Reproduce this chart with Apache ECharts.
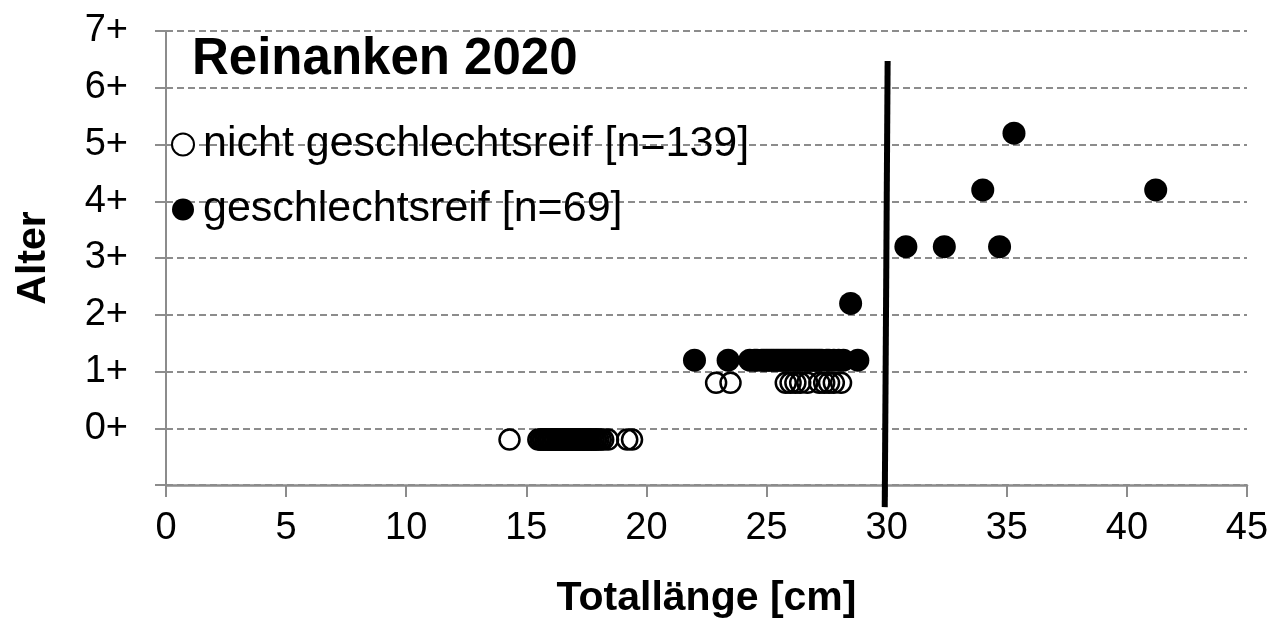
<!DOCTYPE html>
<html>
<head>
<meta charset="utf-8">
<title>Reinanken 2020</title>
<script src="https://cdn.jsdelivr.net/npm/echarts@6/dist/echarts.min.js"></script>
<style>
  html, body { margin: 0; padding: 0; background: #fff; }
  #chart { width: 1271px; height: 619px; }
</style>
</head>
<body>
<div id="chart"></div>
<script>
// Totallänge [cm] je Altersklasse
const openAge0 = [14.3,
  15.5, 15.6, 15.6, 15.7, 15.7, 15.8, 15.8, 15.9, 15.9, 16.0, 16.0, 16.0, 16.1, 16.1,
  16.2, 16.2, 16.2, 16.3, 16.3, 16.4, 16.4, 16.4, 16.5, 16.5, 16.5, 16.6, 16.6, 16.6,
  16.7, 16.7, 16.7, 16.8, 16.8, 16.8, 16.9, 16.9, 16.9, 17.0, 17.0, 17.0, 17.1, 17.1,
  17.1, 17.2, 17.2, 17.2, 17.3, 17.3, 17.3, 17.4, 17.4, 17.4, 17.5, 17.5, 17.5, 17.6,
  17.6, 17.7, 17.7, 17.8, 17.8, 17.9, 17.9, 18.0, 18.1, 18.2, 18.4, 19.2, 19.4];
const openAge1 = [22.9, 23.5, 25.8, 26.0, 26.2, 26.4, 26.7, 27.2, 27.4, 27.6, 27.8, 28.1];
const filledAge1 = [22.0, 23.4, 24.3, 24.5, 24.6, 24.8, 24.9, 25.0, 25.1, 25.2, 25.3, 25.4,
  25.5, 25.6, 25.7, 25.8, 25.9, 26.0, 26.1, 26.2, 26.3, 26.4, 26.5, 26.6, 26.7, 26.8,
  26.9, 27.0, 27.1, 27.2, 27.3, 27.5, 27.6, 27.8, 28.0, 28.2, 28.8];
// [länge, alter]
const filledOlder = [[28.5, 2], [30.8, 3], [32.4, 3], [34.7, 3], [34.0, 4], [41.2, 4], [35.3, 5]];

const xTicks = [0, 5, 10, 15, 20, 25, 30, 35, 40, 45];
const ageTicks = [0, 1, 2, 3, 4, 5, 6, 7];
const limitLine = [[29.92, -1.39], [30.04, 6.47]];

const nameOpen = 'nicht geschlechtsreif [n=139]';
const nameFilled = 'geschlechtsreif [n=69]';

// offene Kreise etwas unter, volle etwas über der Alterslinie
const shift = 0.2;
const openData = openAge0.map(l => [l, 0 - shift]).concat(openAge1.map(l => [l, 1 - shift]));
const filledData = filledAge1.map(l => [l, 1 + shift]).concat(filledOlder.map(d => [d[0], d[1] + shift]));

const font = "'Liberation Sans', Arial, sans-serif";
const gridGray = '#8c8c8c';

const chart = echarts.init(document.getElementById('chart'));
chart.setOption({
  animation: false,
  textStyle: { fontFamily: font, color: '#000' },
  title: {
    text: 'Reinanken 2020',
    left: 192, top: 35, padding: 0,
    textStyle: { fontFamily: font, fontSize: 51, fontWeight: 'bold', color: '#000', lineHeight: 50 }
  },
  legend: {
    orient: 'vertical',
    left: 171, top: 119, padding: 0,
    itemWidth: 22, itemHeight: 22, itemGap: 14,
    textStyle: { fontFamily: font, fontSize: 43, color: '#000', lineHeight: 42, padding: [0, 0, 9, 4] },
    data: [
      { name: nameOpen, icon: 'circle', itemStyle: { color: '#fff', borderColor: '#000', borderWidth: 2, opacity: 1 } },
      { name: nameFilled, icon: 'circle', itemStyle: { color: '#000', borderWidth: 0, opacity: 1 } }
    ]
  },
  grid: { left: 166, right: 24, top: 31, bottom: 134, containLabel: false, outerBoundsMode: 'none' },
  xAxis: {
    type: 'value',
    min: xTicks[0], max: xTicks[xTicks.length - 1], interval: 5,
    name: 'Totallänge [cm]',
    nameLocation: 'middle', nameGap: 93,
    nameTextStyle: { fontFamily: font, fontSize: 41, fontWeight: 'bold', color: '#000' },
    axisLine: { onZero: false, lineStyle: { color: gridGray, width: 2.5 } },
    axisTick: { length: 12, lineStyle: { color: gridGray, width: 2 } },
    axisLabel: { fontFamily: font, fontSize: 38, color: '#000', margin: 25 },
    splitLine: { show: false }
  },
  yAxis: {
    type: 'value',
    min: -1, max: ageTicks[ageTicks.length - 1], interval: 1,
    name: 'Alter',
    nameLocation: 'middle', nameGap: 112, nameRotate: 90,
    nameTextStyle: { fontFamily: font, fontSize: 41, fontWeight: 'bold', color: '#000' },
    axisLine: { show: true, onZero: false, lineStyle: { color: gridGray, width: 2 } },
    axisTick: { show: true, length: 11, lineStyle: { color: gridGray, width: 2 } },
    axisLabel: {
      fontFamily: font, fontSize: 38, color: '#000', margin: 38,
      formatter: v => (ageTicks.indexOf(v) >= 0 ? v + '+' : '')
    },
    splitLine: { show: true, lineStyle: { color: gridGray, width: 2, type: [7, 4] } }
  },
  series: [
    {
      name: nameOpen,
      type: 'scatter',
      symbol: 'circle',
      symbolSize: 20,
      itemStyle: { color: 'rgba(0,0,0,0)', borderColor: '#000', borderWidth: 2.5, opacity: 1 },
      emphasis: { disabled: true },
      data: openData
    },
    {
      name: nameFilled,
      type: 'scatter',
      symbol: 'circle',
      symbolSize: 23,
      itemStyle: { color: '#000', opacity: 1 },
      emphasis: { disabled: true },
      data: filledData
    },
    {
      name: 'grenze',
      type: 'line',
      data: limitLine,
      symbol: 'none',
      clip: false,
      silent: true,
      z: 5,
      lineStyle: { color: '#000', width: 6 }
    }
  ]
});
</script>
</body>
</html>
